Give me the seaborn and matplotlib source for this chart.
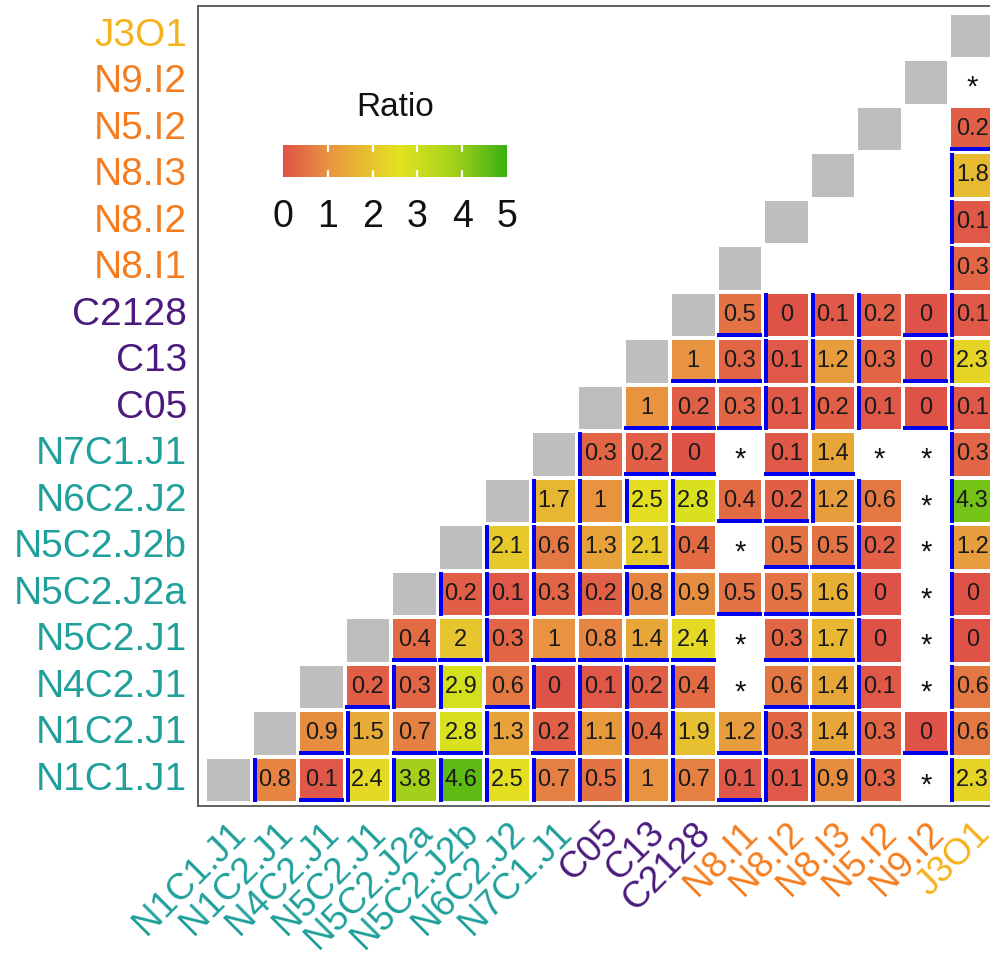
import numpy as np
import pandas as pd
import matplotlib
matplotlib.use("Agg")
import matplotlib.pyplot as plt
import seaborn as sns
from matplotlib.colors import LinearSegmentedColormap, ListedColormap
from matplotlib.patches import Rectangle

sns.set_theme(style="white")
plt.rcParams["font.family"] = ["Liberation Sans", "DejaVu Sans"]

# ---------------- data ----------------
labels = ["N1C1.J1", "N1C2.J1", "N4C2.J1", "N5C2.J1", "N5C2.J2a", "N5C2.J2b",
          "N6C2.J2", "N7C1.J1", "C05", "C13", "C2128", "N8.I1", "N8.I2",
          "N8.I3", "N5.I2", "N9.I2", "J3O1"]
label_groups = ["teal"] * 8 + ["purple"] * 3 + ["orange"] * 5 + ["gold"]
group_colors = {"teal": "#1FA09B", "purple": "#4A1A7C",
                "orange": "#F57D1F", "gold": "#F6B21C"}

NA = np.nan   # cell shown as "*"
__ = None     # blank cell

# ratios to the right of the diagonal (columns after the row's own label)
row_N1C1_J1 = [0.8, 0.1, 2.4, 3.8, 4.6, 2.5, 0.7, 0.5, 1, 0.7, 0.1, 0.1, 0.9, 0.3, NA, 2.3]
row_N1C2_J1 = [0.9, 1.5, 0.7, 2.8, 1.3, 0.2, 1.1, 0.4, 1.9, 1.2, 0.3, 1.4, 0.3, 0, 0.6]
row_N4C2_J1 = [0.2, 0.3, 2.9, 0.6, 0, 0.1, 0.2, 0.4, NA, 0.6, 1.4, 0.1, NA, 0.6]
row_N5C2_J1 = [0.4, 2, 0.3, 1, 0.8, 1.4, 2.4, NA, 0.3, 1.7, 0, NA, 0]
row_N5C2_J2a = [0.2, 0.1, 0.3, 0.2, 0.8, 0.9, 0.5, 0.5, 1.6, 0, NA, 0]
row_N5C2_J2b = [2.1, 0.6, 1.3, 2.1, 0.4, NA, 0.5, 0.5, 0.2, NA, 1.2]
row_N6C2_J2 = [1.7, 1, 2.5, 2.8, 0.4, 0.2, 1.2, 0.6, NA, 4.3]
row_N7C1_J1 = [0.3, 0.2, 0, NA, 0.1, 1.4, NA, NA, 0.3]
row_C05 = [1, 0.2, 0.3, 0.1, 0.2, 0.1, 0, 0.1]
row_C13 = [1, 0.3, 0.1, 1.2, 0.3, 0, 2.3]
row_C2128 = [0.5, 0, 0.1, 0.2, 0, 0.1]
row_N8_I1 = [__, __, __, __, 0.3]
row_N8_I2 = [__, __, __, 0.1]
row_N8_I3 = [__, __, 1.8]
row_N5_I2 = [__, 0.2]
row_N9_I2 = [NA]

# blue edge marks: L = left edge, B = bottom edge, "" = none
mark_N1C1_J1 = ["L", "B", "L", "L", "L", "L", "L", "L", "L", "L", "B", "L", "L", "L", "", "L"]
mark_N1C2_J1 = ["B", "L", "B", "B", "L", "B", "L", "L", "L", "B", "L", "B", "L", "B", "L"]
mark_N4C2_J1 = ["B", "L", "L", "B", "L", "L", "L", "L", "", "B", "B", "L", "", "L"]
mark_N5C2_J1 = ["B", "B", "L", "B", "B", "B", "B", "", "B", "B", "L", "", "L"]
mark_N5C2_J2a = ["L", "L", "L", "L", "L", "L", "B", "B", "B", "L", "", "L"]
mark_N5C2_J2b = ["L", "L", "L", "B", "L", "", "B", "B", "L", "", "L"]
mark_N6C2_J2 = ["L", "L", "L", "L", "B", "B", "L", "L", "", "L"]
mark_N7C1_J1 = ["L", "B", "B", "", "B", "B", "", "", "L"]
mark_C05 = ["B", "B", "B", "L", "L", "L", "B", "L"]
mark_C13 = ["B", "B", "L", "L", "L", "B", "L"]
mark_C2128 = ["B", "L", "L", "L", "B", "L"]
mark_N8_I1 = ["", "", "", "", "L"]
mark_N8_I2 = ["", "", "", "L"]
mark_N8_I3 = ["", "", "L"]
mark_N5_I2 = ["", "B"]
mark_N9_I2 = [""]

rows_values = [row_N1C1_J1, row_N1C2_J1, row_N4C2_J1, row_N5C2_J1, row_N5C2_J2a,
               row_N5C2_J2b, row_N6C2_J2, row_N7C1_J1, row_C05, row_C13, row_C2128,
               row_N8_I1, row_N8_I2, row_N8_I3, row_N5_I2, row_N9_I2, []]
rows_marks = [mark_N1C1_J1, mark_N1C2_J1, mark_N4C2_J1, mark_N5C2_J1, mark_N5C2_J2a,
              mark_N5C2_J2b, mark_N6C2_J2, mark_N7C1_J1, mark_C05, mark_C13, mark_C2128,
              mark_N8_I1, mark_N8_I2, mark_N8_I3, mark_N5_I2, mark_N9_I2, []]

# ---------------- build matrices ----------------
n = len(labels)
top_down = labels[::-1]
vals = pd.DataFrame(np.nan, index=top_down, columns=labels)
diag = pd.DataFrame(np.nan, index=top_down, columns=labels)
stars, marks = [], []
for i, lab in enumerate(labels):
    diag.loc[lab, lab] = 1.0
    for k, v in enumerate(rows_values[i]):
        col = labels[i + 1 + k]
        if v is None:
            continue
        if isinstance(v, float) and np.isnan(v):
            stars.append((lab, col))
        else:
            vals.loc[lab, col] = v
        m = rows_marks[i][k]
        if m:
            marks.append((lab, col, m))

cmap = LinearSegmentedColormap.from_list(
    "ratio", [(0.0, "#DF5248"), (0.2, "#E8933F"), (0.4, "#E6C52E"),
              (0.52, "#E3E31E"), (0.75, "#A8D21C"), (1.0, "#3AB010")])

# ---------------- figure ----------------
W, H = 990, 959
fig = plt.figure(figsize=(W / 100, H / 100), dpi=100)
pitch = 46.5
ax_left_px, ax_top_px, ax_bot_px = 198, 6, 806
cell0_left_px, cell0_top_px = 205, 12.5
x0 = -(cell0_left_px - ax_left_px) / pitch
x1 = x0 + 17.3
y_top = -(cell0_top_px - ax_top_px) / pitch
y_bot = y_top + (ax_bot_px - ax_top_px) / pitch
ax = fig.add_axes([ax_left_px / W, 1 - ax_bot_px / H,
                   (x1 - x0) * pitch / W, (ax_bot_px - ax_top_px) / H])
cax = fig.add_axes([283 / W, 1 - 177 / H, 224 / W, 32 / H])

sns.heatmap(diag, ax=ax, cmap=ListedColormap(["#BEBEBE"]), cbar=False,
            linewidths=1.6, linecolor="white", mask=diag.isna())
sns.heatmap(vals, ax=ax, cmap=cmap, vmin=0, vmax=5, mask=vals.isna(),
            linewidths=1.6, linecolor="white", annot=True, fmt="g",
            annot_kws={"size": 17, "color": "#1a1a1a"},
            cbar=True, cbar_ax=cax,
            cbar_kws={"orientation": "horizontal", "ticks": [0, 1, 2, 3, 4, 5]})

col_pos = {lab: j for j, lab in enumerate(labels)}
row_pos = {lab: r for r, lab in enumerate(top_down)}
for (rl, cl) in stars:
    ax.text(col_pos[cl] + 0.5, row_pos[rl] + 0.62, "*", ha="center", va="center",
            fontsize=21, color="#111111")

bw = 4.0 / pitch
for (rl, cl, m) in marks:
    x = col_pos[cl]
    y = row_pos[rl]
    if m == "L":
        ax.add_patch(Rectangle((x + 0.025, y + 0.03), bw, 0.94,
                               facecolor="#0000EE", edgecolor="none", zorder=5))
    else:
        ax.add_patch(Rectangle((x + 0.02, y + 0.975 - bw), 0.96, bw,
                               facecolor="#0000EE", edgecolor="none", zorder=5))

ax.set_xlim(x0, x1)
ax.set_ylim(y_bot, y_top)
ax.set_xlabel("")
ax.set_ylabel("")

ax.set_xticks(np.arange(n) + 0.5)
ax.set_xticklabels(labels, rotation=45, ha="right", va="top",
                   rotation_mode="anchor", fontsize=26.5)
ax.set_yticks(np.arange(n) + 0.5)
ax.set_yticklabels(top_down, rotation=0, fontsize=28)
ax.tick_params(axis="both", length=0)
ax.tick_params(axis="y", pad=8)
ax.tick_params(axis="x", pad=7)
for t, lab in zip(ax.get_xticklabels(), labels):
    t.set_color(group_colors[label_groups[labels.index(lab)]])
for t, lab in zip(ax.get_yticklabels(), top_down):
    t.set_color(group_colors[label_groups[labels.index(lab)]])

for s in ax.spines.values():
    s.set_visible(True)
    s.set_color("#555555")
    s.set_linewidth(1.3)

# colorbar legend
cax.tick_params(length=0, pad=16, labelsize=27, colors="#111111")
for s in cax.spines.values():
    s.set_visible(False)
for v in [1, 2, 3, 4]:
    cax.plot([v, v], [0, 0.18], color="white", lw=1.6)
    cax.plot([v, v], [0.82, 1], color="white", lw=1.6)
fig.text(395 / W, 1 - 108 / H, "Ratio", ha="center", va="center",
         fontsize=24, color="#111111")

fig.savefig("out.png", dpi=100)
